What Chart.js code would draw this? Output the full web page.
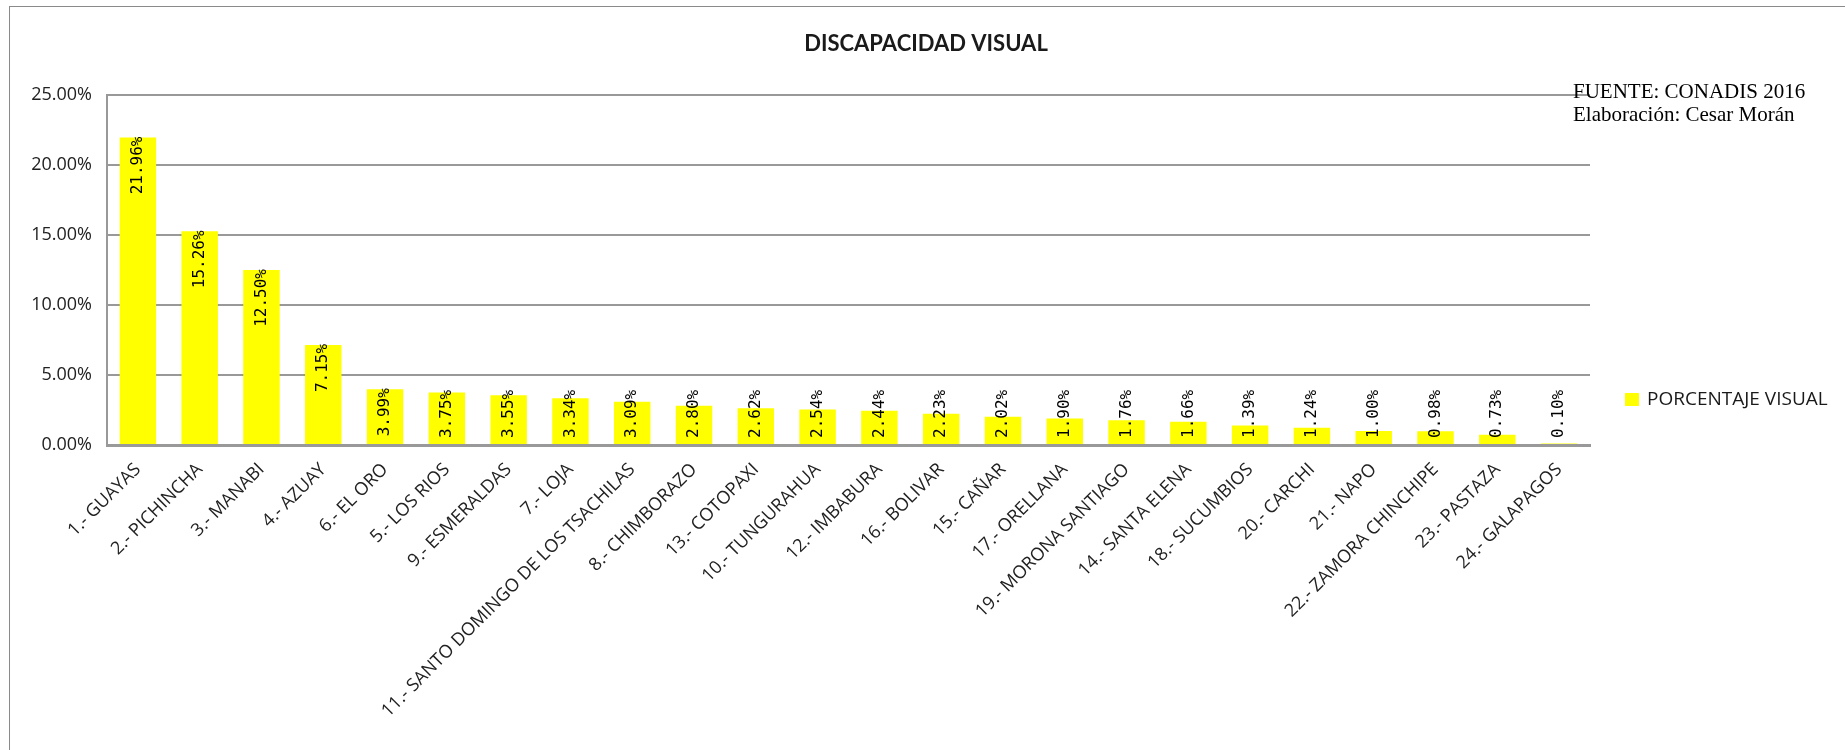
<!DOCTYPE html>
<html>
<head>
<meta charset="utf-8">
<script src="https://cdn.jsdelivr.net/npm/chart.js@4.4.0/dist/chart.umd.min.js"></script>
<style>
  html, body { margin: 0; padding: 0; background: #fff; }
  #wrap { width: 1845px; height: 750px; }
</style>
</head>
<body>
<div id="wrap"><canvas id="grafico" width="1845" height="750"></canvas></div>
<script>
var titulo = 'DISCAPACIDAD VISUAL';
var serieNombre = 'PORCENTAJE VISUAL';
var fuente = ['FUENTE: CONADIS 2016', 'Elaboración: Cesar Morán'];

var provincias = [
  '1.- GUAYAS', '2.- PICHINCHA', '3.- MANABI', '4.- AZUAY', '6.- EL ORO', '5.- LOS RIOS',
  '9.- ESMERALDAS', '7.- LOJA', '11.- SANTO DOMINGO DE LOS TSACHILAS', '8.- CHIMBORAZO',
  '13.- COTOPAXI', '10.- TUNGURAHUA', '12.- IMBABURA', '16.- BOLIVAR', '15.- CAÑAR',
  '17.- ORELLANA', '19.- MORONA SANTIAGO', '14.- SANTA ELENA', '18.- SUCUMBIOS',
  '20.- CARCHI', '21.- NAPO', '22.- ZAMORA CHINCHIPE', '23.- PASTAZA', '24.- GALAPAGOS'
];
var porcentajes = [
  0.2196, 0.1526, 0.1250, 0.0715, 0.0399, 0.0375, 0.0355, 0.0334, 0.0309, 0.0280,
  0.0262, 0.0254, 0.0244, 0.0223, 0.0202, 0.0190, 0.0176, 0.0166, 0.0139, 0.0124,
  0.0100, 0.0098, 0.0073, 0.0010
];
var ejeMax = 0.25;
var ejePaso = 0.05;

function pct(v) {
  return (v * 100).toFixed(2) + '%';
}

// marco, titulo, leyenda y fuente
var extras = {
  id: 'extras',
  beforeDraw: function (chart) {
    var ctx = chart.ctx;
    ctx.save();
    ctx.fillStyle = '#fff';
    ctx.fillRect(0, 0, chart.width, chart.height);
    ctx.strokeStyle = '#8a8a8a';
    ctx.lineWidth = 1;
    ctx.strokeRect(9.5, 6.5, chart.width + 20, chart.height + 20);
    ctx.restore();
  },
  afterDraw: function (chart) {
    var ctx = chart.ctx;
    ctx.save();
    ctx.fillStyle = '#1a1a1a';
    ctx.font = 'bold 22px Lato';
    ctx.textAlign = 'center';
    ctx.textBaseline = 'middle';
    ctx.fillText(titulo, 926, 44);

    // leyenda
    ctx.fillStyle = '#ffff00';
    ctx.fillRect(1625, 393, 14, 13);
    ctx.fillStyle = '#1a1a1a';
    ctx.font = '19px "Open Sans"';
    ctx.textAlign = 'left';
    ctx.fillText(serieNombre, 1647, 400);

    // fuente
    ctx.fillStyle = '#000';
    ctx.font = '21px "Liberation Serif"';
    ctx.fillText(fuente[0], 1573, 92);
    ctx.fillText(fuente[1], 1573, 115);
    ctx.restore();
  },
  afterDatasetsDraw: function (chart) {
    var ctx = chart.ctx;
    var base = chart.scales.y.getPixelForValue(0);
    var meta = chart.getDatasetMeta(0);
    ctx.save();
    ctx.font = '16px "DejaVu Sans Mono"';
    ctx.fillStyle = '#000';
    ctx.textAlign = 'right';
    ctx.textBaseline = 'middle';
    meta.data.forEach(function (bar, i) {
      var txt = pct(porcentajes[i]);
      var largo = ctx.measureText(txt).width;
      var fin = bar.y - 1;
      if (fin + largo > base - 7) fin = base - 7 - largo;
      ctx.save();
      ctx.translate(bar.x, fin);
      ctx.rotate(-Math.PI / 2);
      ctx.fillText(txt, 0, 0);
      ctx.restore();
    });
    ctx.restore();
  }
};

var ctx = document.getElementById('grafico').getContext('2d');
var meuGrafico = new Chart(ctx, {
  type: 'bar',
  data: {
    labels: provincias,
    datasets: [{
      label: serieNombre,
      data: porcentajes,
      backgroundColor: '#ffff00',
      borderWidth: 0,
      categoryPercentage: 1,
      barPercentage: 0.59
    }]
  },
  options: {
    responsive: false,
    animation: false,
    layout: {
      padding: { top: 95, right: 255, bottom: 0, left: 0 }
    },
    plugins: {
      legend: { display: false },
      title: { display: false },
      tooltip: { enabled: false }
    },
    scales: {
      x: {
        afterFit: function (s) { s.height = 305; },
        grid: { display: false },
        border: { display: true, color: '#999', width: 3 },
        ticks: {
          minRotation: 45,
          maxRotation: 45,
          autoSkip: false,
          padding: 6,
          color: '#222',
          font: { family: 'Open Sans', size: 18 }
        }
      },
      y: {
        min: 0,
        max: ejeMax,
        afterFit: function (s) { s.width = 107; },
        grid: { color: '#999', lineWidth: 2, drawTicks: false },
        border: { display: true, color: '#999', width: 2 },
        ticks: {
          stepSize: ejePaso,
          padding: 15,
          color: '#222',
          font: { family: 'Open Sans', size: 18 },
          callback: function (v) { return pct(v); }
        }
      }
    }
  },
  plugins: [extras]
});
</script>
</body>
</html>
